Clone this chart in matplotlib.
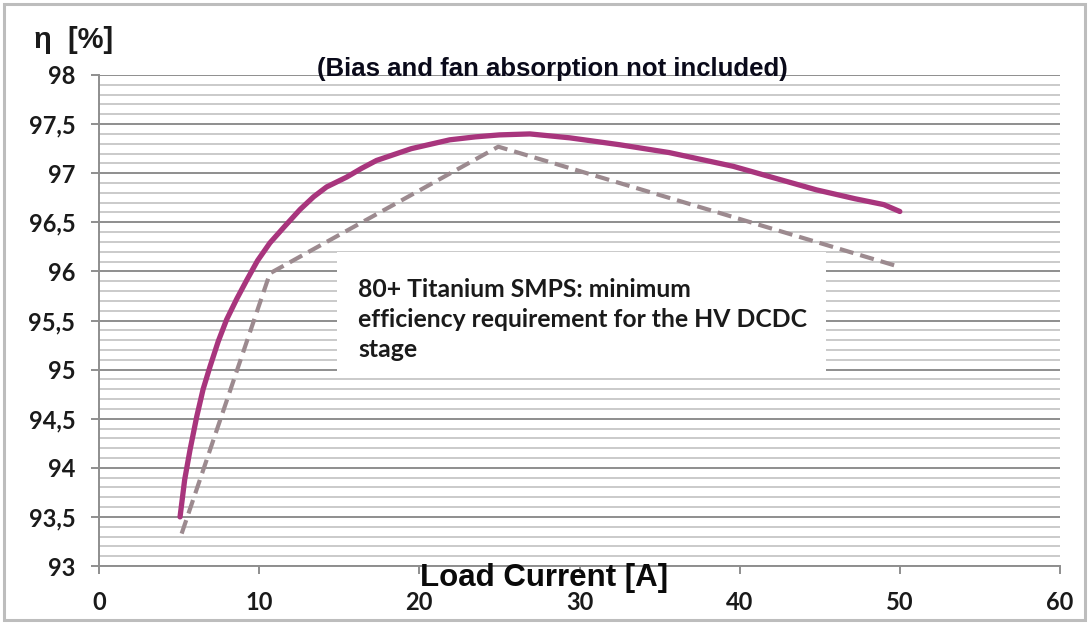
import matplotlib
matplotlib.use("Agg")
import matplotlib.pyplot as plt
from matplotlib.patches import Rectangle
from matplotlib.ticker import MultipleLocator, FuncFormatter

# Measured efficiency curve
meas_x = [5.06, 5.35, 5.68, 6.10, 6.50, 6.93, 7.45, 7.97, 8.6, 9.22, 9.9, 10.67,
          11.6, 12.55, 13.4, 14.21, 15.46, 16.4, 17.33, 19.5, 21.9, 23.5, 25.0,
          26.9, 29.4, 32.5, 35.6, 39.6, 44.8, 47.2, 49.0, 50.0]
meas_y = [93.50, 93.88, 94.18, 94.52, 94.80, 95.03, 95.29, 95.51, 95.72, 95.91, 96.11, 96.29,
          96.46, 96.63, 96.76, 96.86, 96.96, 97.05, 97.13, 97.25, 97.34, 97.37, 97.39,
          97.40, 97.36, 97.29, 97.21, 97.07, 96.83, 96.74, 96.68, 96.61]

# 80+ Titanium minimum requirement
req_x = [5.16, 10.67, 24.93, 49.9]
req_y = [93.33, 95.98, 97.27, 96.05]

xticks = [0, 10, 20, 30, 40, 50, 60]

W, H = 1089, 624
fig = plt.figure(figsize=(W / 100, H / 100), dpi=100)
fig.patch.set_facecolor("white")

# figure frame
fig.patches.append(Rectangle((4 / W, 4 / H), 1 - 8 / W, 1 - 8 / H, transform=fig.transFigure,
                             facecolor="none", edgecolor="#BDBDBD", linewidth=2.2))

ax = fig.add_axes([99 / W, (H - 566) / H, (1060 - 99) / W, (566 - 75) / H])
ax.set_xlim(0, 60)
ax.set_ylim(93, 98)

ax.yaxis.set_major_locator(MultipleLocator(0.5))
ax.yaxis.set_minor_locator(MultipleLocator(0.1))
ax.grid(axis="y", which="minor", color="#C6C6C6", linewidth=1.3)
ax.grid(axis="y", which="major", color="#8E8E8E", linewidth=1.4)
ax.set_axisbelow(True)

for s in ["top", "right"]:
    ax.spines[s].set_visible(False)
for s in ["left", "bottom"]:
    ax.spines[s].set_color("#8E8E8E")
    ax.spines[s].set_linewidth(1.4)

ax.tick_params(axis="both", which="major", direction="out", length=6, width=1.4,
               color="#8E8E8E")
ax.tick_params(axis="y", which="minor", length=0)
ax.tick_params(axis="y", pad=11)
ax.tick_params(axis="x", pad=12)

fmt = FuncFormatter(lambda v, p: ("%g" % v).replace(".", ","))
ax.yaxis.set_major_formatter(fmt)
ax.set_xticks(xticks)
for lab in ax.get_yticklabels() + ax.get_xticklabels():
    lab.set_fontfamily("Lato")
    lab.set_fontweight("bold")
    lab.set_fontsize(17)
    lab.set_color("#1a1a1a")

ax.plot(req_x, req_y, color="#9C8A8F", linewidth=3.0, linestyle=(0, (3.4, 1.7)),
        solid_capstyle="butt", zorder=3)
ax.plot(meas_x, meas_y, color="#A8357D", linewidth=3.8, solid_capstyle="round",
        solid_joinstyle="round", zorder=4)

# text box
ax.add_patch(Rectangle((0.2477, 0.389), 0.7565 - 0.2477, 0.6395 - 0.389,
                       transform=ax.transAxes, facecolor="white", edgecolor="none",
                       zorder=2.5))
ax.text(0.2695, 0.586,
        "80+ Titanium SMPS: minimum\nefficiency requirement for the HV DCDC\nstage",
        transform=ax.transAxes, ha="left", va="top", fontsize=17.8,
        fontfamily="Lato", fontweight="bold", color="#1a1a1a", linespacing=1.36,
        zorder=5)

fig.text(552 / W, 1 - 69 / H, "(Bias and fan absorption not included)", ha="center",
         va="center", fontsize=18.5, fontfamily="Liberation Sans", fontweight="bold",
         color="#0a0a1a")
fig.text(34 / W, 1 - 40 / H, "η  [%]", ha="left", va="center", fontsize=21,
         fontfamily="Liberation Sans", fontweight="bold", color="#1a1a1a")
fig.text(544 / W, 1 - 578 / H, "Load Current [A]", ha="center", va="center",
         fontsize=22.5, fontfamily="Liberation Sans", fontweight="bold", color="#0a0a0a")

fig.savefig("out.png", dpi=100, facecolor="white")
